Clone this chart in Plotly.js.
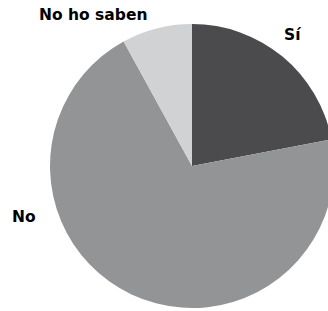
<!DOCTYPE html>
<html>
<head>
<meta charset="utf-8">
<script src="https://cdn.plot.ly/plotly-3.0.1.min.js"></script>
<style>
html,body{margin:0;padding:0;overflow:hidden;background:#fff;}
#chart{width:340px;height:311px;}
</style>
</head>
<body>
<div id="chart"></div>
<script>
const categories = ["Sí", "No", "No ho saben"];
const values = [22, 70, 8];
const colors = ["#4b4b4d", "#939496", "#d1d2d4"];

const W = 340, H = 311;
const data = [{
  type: "pie",
  labels: categories,
  values: values,
  sort: false,
  direction: "clockwise",
  rotation: 0,
  textinfo: "none",
  hoverinfo: "none",
  marker: {colors: colors, line: {width: 0}},
  domain: {x: [50 / W, 334 / W], y: [3 / H, 287 / H]},
  showlegend: false
}];

const labelFont = {family: "DejaVu Sans", size: 15.5, color: "#000"};
const layout = {
  width: W, height: H,
  margin: {l: 0, r: 0, t: 0, b: 0},
  paper_bgcolor: "#fff",
  showlegend: false,
  annotations: [
    {text: "<b>Sí</b>", x: 292 / W, y: (H - 35) / H, xref: "paper", yref: "paper", showarrow: false, font: labelFont, xanchor: "center", yanchor: "middle"},
    {text: "<b>No ho saben</b>", x: 93 / W, y: (H - 15) / H, xref: "paper", yref: "paper", showarrow: false, font: labelFont, xanchor: "center", yanchor: "middle"},
    {text: "<b>No</b>", x: 24 / W, y: (H - 217) / H, xref: "paper", yref: "paper", showarrow: false, font: labelFont, xanchor: "center", yanchor: "middle"}
  ]
};
Plotly.newPlot("chart", data, layout, {staticPlot: true, displayModeBar: false});
</script>
</body>
</html>
